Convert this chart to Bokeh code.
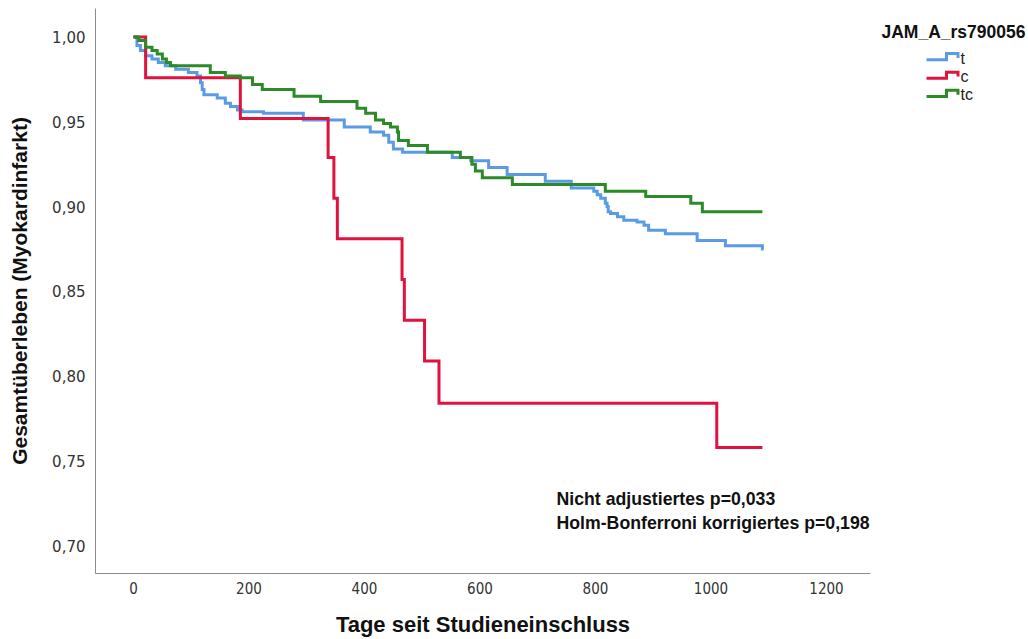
from bokeh.plotting import figure
from bokeh.models import Range1d, FixedTicker, CustomJSTickFormatter, Label
from bokeh.layouts import row
from bokeh.embed import file_html
from bokeh.resources import INLINE

# ---------------- data ----------------
group_names = ["t", "c", "tc"]
legend_title = "JAM_A_rs790056"

t_days = [0, 6, 12, 21, 32, 43, 55, 73, 95, 110, 116, 119, 122, 145, 159, 168, 180, 188, 225, 294,
          365, 410, 433, 442, 450, 466, 552, 584, 615, 647, 713, 758, 797, 803, 809, 817, 820, 822, 826, 838,
          849, 872, 884, 892, 921, 976, 1025, 1089, 1091]
t_surv = [1.000, 0.995, 0.992, 0.989, 0.987, 0.985, 0.983, 0.981, 0.979, 0.977, 0.973, 0.969, 0.966, 0.964,
          0.961, 0.959, 0.957, 0.956, 0.955, 0.951, 0.947, 0.944, 0.942, 0.938, 0.934, 0.932, 0.929, 0.927,
          0.923, 0.919, 0.915, 0.911, 0.909, 0.907, 0.905, 0.902, 0.900, 0.897, 0.896, 0.894, 0.892, 0.891,
          0.889, 0.886, 0.884, 0.880, 0.877, 0.875, 0.875]

c_days = [0, 21, 185, 337, 347, 353, 465, 469, 504, 529, 1010, 1089]
c_surv = [1.000, 0.976, 0.952, 0.929, 0.905, 0.881, 0.857, 0.833, 0.809, 0.784, 0.758, 0.758]

tc_days = [0, 9, 21, 32, 41, 50, 57, 64, 133, 159, 185, 206, 223, 278, 324, 387, 402, 419, 433, 445,
           457, 459, 476, 509, 566, 586, 592, 604, 656, 817, 887, 965, 985, 1089]
tc_surv = [1.000, 0.998, 0.994, 0.992, 0.990, 0.987, 0.985, 0.983, 0.979, 0.977, 0.976, 0.972, 0.969,
           0.965, 0.962, 0.958, 0.955, 0.951, 0.949, 0.947, 0.944, 0.939, 0.936, 0.932, 0.929, 0.925,
           0.921, 0.917, 0.913, 0.909, 0.906, 0.902, 0.897, 0.897]

x_ticks = [0, 200, 400, 600, 800, 1000, 1200]
y_ticks = [0.70, 0.75, 0.80, 0.85, 0.90, 0.95, 1.00]

x_title = "Tage seit Studieneinschluss"
y_title = "Gesamtüberleben (Myokardinfarkt)"
note_lines = ["Nicht adjustiertes p=0,033", "Holm-Bonferroni korrigiertes p=0,198"]

colors = ["#5b9be6", "#e0133f", "#2c8a28"]

# ---------------- main figure ----------------
p = figure(width=874, height=639, output_backend="svg", toolbar_location=None,
           x_range=Range1d(-65.8, 1276.2), y_range=Range1d(0.6837, 1.0168),
           min_border_left=95, min_border_right=4, min_border_top=8, min_border_bottom=66)
p.outline_line_color = None
p.grid.visible = False
p.background_fill_color = "white"

series = [(t_days, t_surv), (c_days, c_surv), (tc_days, tc_surv)]
for (xs, ys), col in zip(series, colors):
    p.step(xs, ys, mode="after", line_width=3, line_color=col, line_join="miter")

for ax in (p.xaxis[0], p.yaxis[0]):
    ax.axis_line_color = "#8c8c8c"
    ax.axis_line_width = 1
    ax.major_tick_line_color = None
    ax.minor_tick_line_color = None
    ax.major_tick_in = 0
    ax.major_tick_out = 0
    ax.minor_tick_in = 0
    ax.minor_tick_out = 0
    ax.major_label_text_color = "#333333"

p.xaxis.ticker = FixedTicker(ticks=x_ticks)
p.xaxis.major_label_text_font = "DejaVu Sans Condensed"
p.xaxis.major_label_text_font_size = "15px"
p.xaxis.major_label_standoff = 8
p.xaxis.axis_label = x_title
p.xaxis.axis_label_text_font = "Liberation Sans"
p.xaxis.axis_label_text_font_style = "bold"
p.xaxis.axis_label_text_font_size = "22px"
p.xaxis.axis_label_text_color = "#111111"
p.xaxis.axis_label_standoff = 15

p.yaxis.ticker = FixedTicker(ticks=y_ticks)
p.yaxis.formatter = CustomJSTickFormatter(code="return tick.toFixed(2).replace('.', ',');")
p.yaxis.major_label_text_font = "DejaVu Sans"
p.yaxis.major_label_text_font_size = "15px"
p.yaxis.major_label_standoff = 10
p.yaxis.axis_label = y_title
p.yaxis.axis_label_text_font = "Liberation Sans"
p.yaxis.axis_label_text_font_style = "bold"
p.yaxis.axis_label_text_font_size = "21px"
p.yaxis.axis_label_text_color = "#111111"
p.yaxis.axis_label_standoff = 18

for yy, txt in zip([0.7279, 0.7132], note_lines):
    p.add_layout(Label(x=732.5, y=yy, text=txt, text_align="left", text_baseline="middle",
                       text_font="Liberation Sans", text_font_style="bold", text_font_size="17.7px",
                       text_color="#111111"))

# ---------------- legend figure ----------------
leg = figure(width=154, height=639, output_backend="svg", toolbar_location=None,
             x_range=Range1d(0, 154), y_range=Range1d(639, 0),
             x_axis_type=None, y_axis_type=None,
             min_border_left=0, min_border_right=0, min_border_top=0, min_border_bottom=0)
leg.outline_line_color = None
leg.grid.visible = False

leg.add_layout(Label(x=7, y=27, text=legend_title, text_align="left", text_baseline="middle",
                     text_font="Liberation Sans", text_font_style="bold", text_font_size="17.5px",
                     text_color="#111111"))
row_y = [56.0, 77.0, 97.5]
for ry, col, name in zip(row_y, colors, group_names):
    leg.line([52, 72, 72, 83.5, 83.5], [ry + 2, ry + 2, ry - 5, ry - 5, ry],
             line_color=col, line_width=3, line_join="miter")
    leg.add_layout(Label(x=86, y=ry, text=name, text_align="left", text_baseline="middle",
                         text_font="Liberation Sans", text_font_size="16px", text_color="#222222"))

layout = row(p, leg)
open("out.html", "w").write(file_html(layout, INLINE))
